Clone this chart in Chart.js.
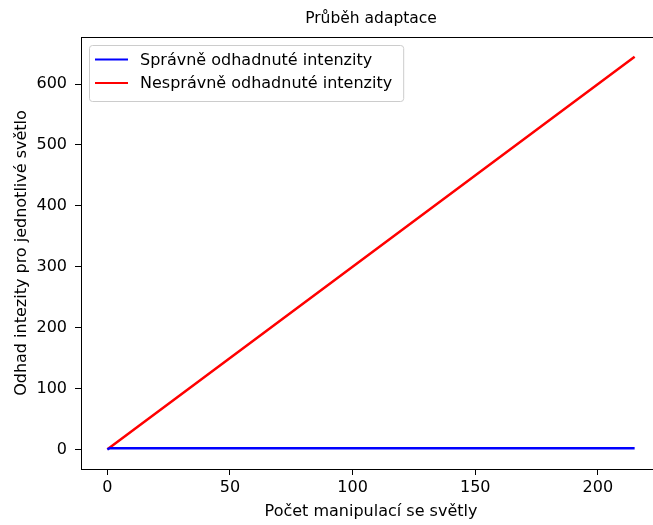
<!DOCTYPE html>
<html>
<head>
<meta charset="utf-8">
<script src="https://cdn.jsdelivr.net/npm/chart.js@4"></script>
<style>
  html, body { margin: 0; padding: 0; background: #fff; overflow: hidden; }
  canvas { display: block; }
</style>
</head>
<body>
<canvas id="chart" width="661" height="525"></canvas>
<script>
// data
const steps = [0, 1, 215];
const correct = [0, 2, 2];
const wrong = [0, 3, 645];
const seriesLabels = ['Správně odhadnuté intenzity', 'Nesprávně odhadnuté intenzity'];
const xTicks = [0, 50, 100, 150, 200];
const yTicks = [0, 100, 200, 300, 400, 500, 600];
const chartTitle = 'Průběh adaptace';

const FONT = 'DejaVu Sans';

function toPoints(xs, ys) {
  return xs.map((x, i) => ({ x: x, y: ys[i] }));
}

// title over the plot area, frame on all four sides, legend inside the plot
const framePlugin = {
  id: 'frame',
  afterDraw(chart) {
    const { ctx, chartArea } = chart;
    ctx.save();
    ctx.strokeStyle = '#000';
    ctx.lineWidth = 1;
    ctx.strokeRect(chartArea.left + 0.5, chartArea.top + 0.5,
      chartArea.right - chartArea.left, chartArea.bottom - chartArea.top);

    // title
    ctx.font = '15.5px "' + FONT + '"';
    ctx.fillStyle = '#000';
    ctx.textAlign = 'center';
    ctx.textBaseline = 'middle';
    ctx.fillText(chartTitle, (chartArea.left + chartArea.right) / 2, 19);

    // legend
    ctx.font = '16px "' + FONT + '"';
    const sets = chart.data.datasets;
    let tw = 0;
    sets.forEach(d => { tw = Math.max(tw, ctx.measureText(d.label).width); });
    const bx = chartArea.left + 8, by = chartArea.top + 8;
    const bw = 51 + tw + 11, bh = 56;
    ctx.beginPath();
    ctx.roundRect(bx + 0.5, by + 0.5, bw, bh, 3);
    ctx.fillStyle = 'rgba(255,255,255,0.8)';
    ctx.fill();
    ctx.strokeStyle = '#cccccc';
    ctx.stroke();
    ctx.textBaseline = 'middle';
    ctx.textAlign = 'left';
    sets.forEach((d, i) => {
      const ry = by + 14.5 + i * 23.5;
      ctx.beginPath();
      ctx.moveTo(bx + 6, ry);
      ctx.lineTo(bx + 39, ry);
      ctx.strokeStyle = d.borderColor;
      ctx.lineWidth = 2.2;
      ctx.stroke();
      ctx.fillStyle = '#000';
      ctx.fillText(d.label, bx + 51, ry + 1);
    });
    ctx.restore();
  }
};

new Chart(document.getElementById('chart'), {
  type: 'line',
  data: {
    datasets: [
      {
        label: seriesLabels[0],
        data: toPoints(steps, correct),
        borderColor: '#0000ff',
        borderWidth: 2.5,
        pointRadius: 0,
        tension: 0
      },
      {
        label: seriesLabels[1],
        data: toPoints(steps, wrong),
        borderColor: '#ff0000',
        borderWidth: 2.5,
        pointRadius: 0,
        tension: 0
      }
    ]
  },
  options: {
    responsive: false,
    animation: false,
    devicePixelRatio: 1,
    layout: { padding: { top: 37, left: 0, right: 0, bottom: 0 } },
    plugins: {
      legend: { display: false },
      tooltip: { enabled: false },
      title: { display: false }
    },
    scales: {
      x: {
        type: 'linear',
        min: -10.75,
        max: 225.75,
        afterFit: s => { s.height = 56; },
        afterBuildTicks: s => { s.ticks = xTicks.map(v => ({ value: v })); },
        grid: { drawOnChartArea: false, drawTicks: true, tickLength: 6, color: '#000' },
        border: { display: true, color: '#000' },
        ticks: { color: '#000', padding: 3, font: { family: FONT, size: 16 }, maxRotation: 0 },
        title: {
          display: true,
          text: 'Počet manipulací se světly',
          color: '#000',
          font: { family: FONT, size: 16 },
          padding: { top: 0, bottom: 4 }
        }
      },
      y: {
        type: 'linear',
        min: -32.25,
        max: 677.25,
        afterFit: s => { s.width = 81; },
        afterBuildTicks: s => { s.ticks = yTicks.map(v => ({ value: v })); },
        grid: { drawOnChartArea: false, drawTicks: true, tickLength: 6, color: '#000' },
        border: { display: true, color: '#000' },
        ticks: { color: '#000', padding: 8, font: { family: FONT, size: 16 } },
        title: {
          display: true,
          text: 'Odhad intezity pro jednotlivé světlo',
          color: '#000',
          font: { family: FONT, size: 16 },
          padding: { top: 12, bottom: 0 }
        }
      }
    }
  },
  plugins: [framePlugin]
});
</script>
</body>
</html>
